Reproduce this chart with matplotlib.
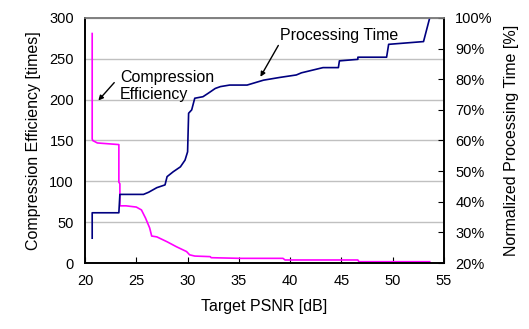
import matplotlib.pyplot as plt

plt.rcParams['font.family'] = ['Liberation Sans', 'DejaVu Sans']

# compression efficiency (left axis, times)
ce_psnr = [20.7, 20.7, 20.75, 21.2, 23.3, 23.3, 23.4, 23.4, 24.0, 25.0, 25.5, 25.9, 26.3,
           26.5, 27.0, 28.0, 28.9, 29.9, 30.2, 30.7, 32.2, 32.3, 35.1, 39.3, 39.5, 46.6, 46.7, 53.6]
ce_vals = [281, 152, 150, 147, 145, 99, 97, 70, 70, 68.5, 65, 55, 43,
           33, 32, 26, 20, 14, 10, 8.5, 7.8, 6.5, 5.7, 5.7, 3.7, 3.7, 1.6, 1.6]

# processing time (right axis, %)
pt_psnr = [20.7, 20.7, 23.3, 23.4, 25.7, 26.2, 27.0, 27.8, 28.0, 28.6, 29.3, 29.75, 30.0,
           30.1, 30.4, 30.65, 30.7, 31.5, 32.0, 32.7, 33.2, 34.1, 35.8, 37.4, 39.0, 40.6,
           41.1, 43.2, 44.7, 44.8, 46.6, 46.6, 49.4, 49.6, 53.0, 53.6]
pt_vals = [28.1, 36.4, 36.4, 42.4, 42.4, 43.1, 44.6, 45.5, 48.2, 49.8, 51.4, 53.6, 56.3,
           68.9, 70.0, 73.2, 73.8, 74.3, 75.4, 77.0, 77.6, 78.1, 78.1, 79.7, 80.6, 81.4,
           82.1, 83.8, 83.8, 86.0, 86.5, 87.2, 87.2, 91.4, 92.3, 100]

fig = plt.figure(figsize=(5.29, 3.29), dpi=100)
ax = fig.add_axes([0.1607, 0.2006, 0.6787, 0.7447])
ax2 = ax.twinx()

ax.plot(ce_psnr, ce_vals, color='#ff00ff', lw=1.2)
ax2.plot(pt_psnr, pt_vals, color='#000080', lw=1.2)

ax.set_xlim(20, 55)
ax.set_ylim(0, 300)
ax2.set_ylim(20, 100)
ax.set_xticks(range(20, 56, 5))
ax.set_yticks(range(0, 301, 50))
ax2.set_yticks(range(20, 101, 10))
ax2.set_yticklabels([f'{v}%' for v in range(20, 101, 10)])

ax.grid(axis='y', color='#c0c0c0', lw=1)
ax.set_axisbelow(True)

ax.tick_params(axis='x', direction='in', length=4, labelsize=10.5, pad=8, color='black')
ax.tick_params(axis='y', length=0, labelsize=10.5, pad=8)
ax2.tick_params(axis='y', direction='in', length=4, labelsize=10.5, pad=8)

for a in (ax, ax2):
    a.spines['top'].set_color('#808080')
    for s in ('left', 'right', 'bottom'):
        a.spines[s].set_color('black')
    for s in a.spines.values():
        s.set_linewidth(1.2)

ax.set_xlabel('Target PSNR [dB]', fontsize=11.5, labelpad=8)
ax.set_ylabel('Compression Efficiency [times]', fontsize=11.5, labelpad=6)
ax2.set_ylabel('Normalized Processing Time [%]', fontsize=11.5, labelpad=8)

ax.annotate('Compression\nEfficiency', xy=(21.3, 199), xytext=(23.4, 217),
            fontsize=11.5, linespacing=1.15, va='center', ha='left',
            arrowprops=dict(arrowstyle='-|>', color='black', lw=1, mutation_scale=7,
                            shrinkA=0, shrinkB=0, relpos=(-0.06, 0.6)))
ax.annotate('Processing Time', xy=(37.1, 228), xytext=(39.0, 279),
            fontsize=11.5, va='center', ha='left',
            arrowprops=dict(arrowstyle='-|>', color='black', lw=1, mutation_scale=7,
                            shrinkA=0, shrinkB=0, relpos=(0.0, 0.0)))

fig.savefig('out.png', dpi=100)
